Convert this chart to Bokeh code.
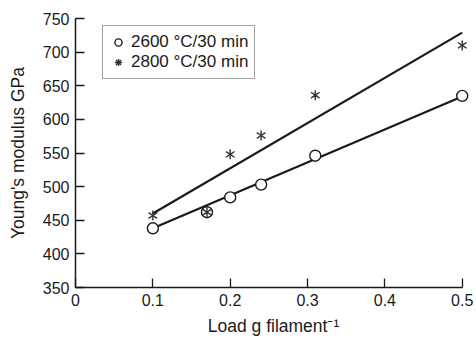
from bokeh.plotting import figure
from bokeh.models import Range1d, Legend, LegendItem, FixedTicker
from bokeh.embed import file_html
from bokeh.resources import INLINE
import math

# Data
load_2600 = [0.10, 0.17, 0.20, 0.24, 0.31, 0.50]
mod_2600 = [438, 462, 484, 503, 546, 635]
load_2800 = [0.10, 0.17, 0.20, 0.24, 0.31, 0.50]
mod_2800 = [457, 462, 548, 576, 636, 710]
fit_load = [0.10, 0.50]
fit_2600 = [438, 634]
fit_2800 = [460, 729]
x_ticks = [0, 0.1, 0.2, 0.3, 0.4, 0.5]
y_ticks = [350, 400, 450, 500, 550, 600, 650, 700, 750]

FONT = "Liberation Sans"
INK = "#1a1a1a"

p = figure(width=476, height=341, output_backend="svg", toolbar_location=None,
           x_range=Range1d(0, 0.512), y_range=Range1d(350, 750),
           min_border_left=75, min_border_right=5, min_border_top=18, min_border_bottom=54)
p.outline_line_color = None
p.grid.visible = False
p.background_fill_color = "white"

for ax in (p.xaxis[0], p.yaxis[0]):
    ax.axis_line_color = INK
    ax.axis_line_width = 1.5
    ax.major_tick_line_color = INK
    ax.major_tick_line_width = 1.3
    ax.major_tick_in = 9
    ax.major_tick_out = 0
    ax.minor_tick_line_color = None
    ax.major_label_text_font = FONT
    ax.major_label_text_font_size = "16px"
    ax.major_label_text_color = INK
    ax.axis_label_text_font = FONT
    ax.axis_label_text_font_size = "17.5px"
    ax.axis_label_text_font_style = "normal"
    ax.axis_label_text_color = INK
    ax.major_label_standoff = 6

p.xaxis.ticker = FixedTicker(ticks=x_ticks)
p.yaxis.ticker = FixedTicker(ticks=y_ticks)
p.xaxis.bounds = (0, 0.5)
p.xaxis.major_label_overrides = {0: "0", 0.1: "0.1", 0.2: "0.2", 0.3: "0.3", 0.4: "0.4", 0.5: "0.5"}
p.xaxis.axis_label = "Load g filament\u207b\u00b9"
p.yaxis.axis_label = "Young's modulus GPa"
p.xaxis.axis_label_standoff = 7
p.yaxis.axis_label_standoff = 12

# fitted lines
p.line(fit_load, fit_2600, line_color=INK, line_width=2.2)
p.line(fit_load, fit_2800, line_color=INK, line_width=2.2)

# 2600 markers
r_c = p.scatter(load_2600, mod_2600, marker="circle", size=11, fill_color="white",
                line_color=INK, line_width=1.4)
# 2800 markers (six-armed asterisk from two "y" markers)
p.scatter(load_2800, mod_2800, marker="y", size=10, line_color="#333333", line_width=1.4)
p.scatter(load_2800, mod_2800, marker="y", size=10, angle=math.pi,
          line_color="#333333", line_width=1.4)
# legend-only asterisk
r_leg = p.scatter([float("nan")], [float("nan")], marker="asterisk", size=10,
                  line_color="#333333", line_width=1.4)

legend = Legend(items=[LegendItem(label="2600 \u00b0C/30 min", renderers=[r_c]),
                       LegendItem(label="2800 \u00b0C/30 min", renderers=[r_leg])],
                location=(27, 208))
legend.label_text_font = FONT
legend.label_text_font_size = "17px"
legend.label_text_color = INK
legend.border_line_color = "#444444"
legend.border_line_width = 1.2
legend.background_fill_color = "white"
legend.background_fill_alpha = 1
legend.padding = 6
legend.spacing = 0
legend.glyph_width = 18
legend.glyph_height = 20
legend.label_height = 20
legend.label_standoff = 4
legend.margin = 0
p.add_layout(legend, "center")

open("out.html", "w").write(file_html(p, INLINE))
